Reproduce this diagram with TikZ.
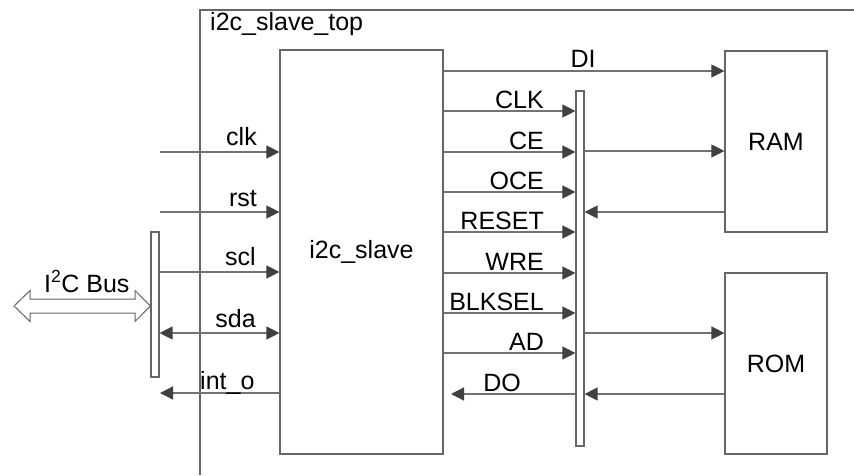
\documentclass[tikz,border=0pt]{standalone}
\usepackage{fontspec}
\setmainfont{Liberation Sans}
\usetikzlibrary{arrows.meta}
\begin{document}
\begin{tikzpicture}[x=1pt,y=-1pt,
  >={Triangle[length=13pt,width=13pt,color=black!75]},
  lbl/.style={font=\fontsize{25}{29}\selectfont, inner sep=0pt},
  box/.style={draw=black!60, line width=1.2pt, fill=white, inner sep=0pt, font=\fontsize{25}{29}\selectfont},
  wire/.style={draw=black!55, line width=1.3pt}]
\useasboundingbox[fill=white] (0,0) rectangle (854,475);
% outer frame
\coordinate (fcorner) at (200,10);
\coordinate (fright) at (854,10);
\coordinate (fbottom) at (200,475);
\draw[draw=black!60, line width=1.2pt] (fright) -- (fcorner) -- (fbottom);
\node[lbl, anchor=base west] (toplbl) at (210,30) {i2c\_slave\_top};
% blocks
\node[box, minimum width=163pt, minimum height=404pt] (slave) at (361.5,252) {i2c\_slave};
\node[box, minimum width=8pt, minimum height=355pt] (rbus) at (580,268.5) {};
\node[box, minimum width=8pt, minimum height=145pt] (lbus) at (155,304.5) {};
\node[box, minimum width=102pt, minimum height=181pt] (ram) at (776,141.5) {RAM};
\node[box, minimum width=102pt, minimum height=181pt] (rom) at (776,363.5) {ROM};
% I2C bus hollow arrow
\draw[draw=black!60, line width=1pt, fill=white]
  (14,306) -- (30,290.5) -- (30,299) -- (135,299) -- (135,290.5) -- (lbus.west |- 0,306)
  -- (135,321.5) -- (135,313) -- (30,313) -- (30,321.5) -- cycle;
\node[lbl, anchor=base west] (buslbl) at (44,292) {I\textsuperscript{2}C Bus};
% left side
\coordinate (clkin) at (160,152);
\coordinate (rstin) at (160,212);
\coordinate (intout) at (160,393);
\draw[wire,->] (clkin) -- (slave.west |- clkin);
\draw[wire,->] (rstin) -- (slave.west |- rstin);
\draw[wire,->] (lbus.east |- 0,272) -- (slave.west |- 0,272);
\draw[wire,<->] (lbus.east |- 0,333) -- (slave.west |- 0,333);
\draw[wire,->] (slave.west |- intout) -- (intout);
\node[lbl, anchor=base east] (lclk) at (257,145) {clk};
\node[lbl, anchor=base east] (lrst) at (257,206) {rst};
\node[lbl, anchor=base east] (lscl) at (256,265) {scl};
\node[lbl, anchor=base east] (lsda) at (256,327) {sda};
\node[lbl, anchor=base west] (lint) at (200,389) {int\_o};
% right side
\draw[wire,->] (slave.east |- 0,71) -- (ram.west |- 0,71);
\node[lbl, anchor=base] (ldi) at (583,67) {DI};
\foreach \y/\t/\n in {111/CLK/a,152/CE/b,192/OCE/c,232/RESET/d,273/WRE/e,313/BLKSEL/f,353/AD/g}{
  \draw[wire,->] (slave.east |- 0,\y) -- (rbus.west |- 0,\y);
  \node[lbl, anchor=base east] (l\n) at (544,\y-3) {\t};
}
\draw[wire,->] (rbus.east |- 0,151) -- (ram.west |- 0,151);
\draw[wire,->] (ram.west |- 0,212) -- (rbus.east |- 0,212);
\draw[wire,->] (rbus.east |- 0,333) -- (rom.west |- 0,333);
\draw[wire,->] (rom.west |- 0,394) -- (rbus.east |- 0,394);
\coordinate (doend) at (451,394);
\draw[wire,->] (rbus.west |- doend) -- (doend);
\node[lbl, anchor=base] (ldo) at (502,391) {DO};
\end{tikzpicture}
\end{document}
